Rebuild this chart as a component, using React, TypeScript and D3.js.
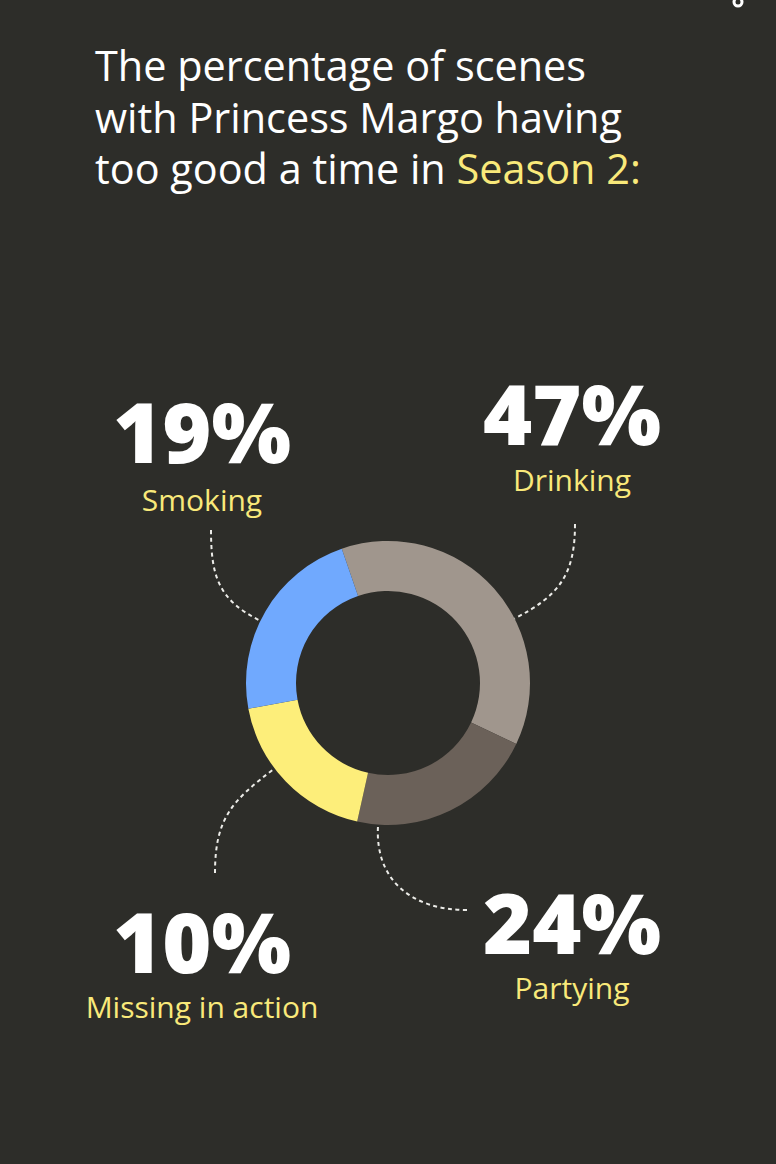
import React, { useEffect, useRef } from 'react';
import * as d3 from 'd3';

// Categories, in clockwise order starting from the top of the ring
const categories = ['Drinking', 'Partying', 'Missing in action', 'Smoking'];
// Percent printed next to each slice
const percentLabels = [47, 24, 10, 19];
// Share of the ring each slice actually takes
const arcShares = [37.3, 21.4, 18.6, 22.6];
const sliceColors = ['#a0968d', '#6b6159', '#fdee7a', '#70a9fe'];

const titleLines = [
  [{ t: 'The percentage of scenes', hi: false }],
  [{ t: 'with Princess Margo having', hi: false }],
  [{ t: 'too good a time in ', hi: false }, { t: 'Season 2:', hi: true }],
];

// Annotation layout per category (same order as categories)
const annotations = [
  { x: 572, pctY: 445, labelY: 491, end: [575, 524], tan: [0, 1], angle: 63 },
  { x: 572, pctY: 954, labelY: 999, end: [467, 910], tan: [-1, 0], angle: 184 },
  { x: 202, pctY: 973, labelY: 1018, end: [215, 873], tan: [0, -1], angle: 233 },
  { x: 202, pctY: 463, labelY: 511, end: [211, 530], tan: [0, 1], angle: 296 },
];

const W = 776;
const H = 1164;
const BG = '#2d2d29';
const YELLOW = '#f9e97a';

const App: React.FC = () => {
  const svgRef = useRef<SVGSVGElement>(null);

  useEffect(() => {
    if (!svgRef.current) return;
    const svg = d3.select(svgRef.current);
    svg.selectAll('*').remove();

    svg.append('rect').attr('width', W).attr('height', H).attr('fill', BG);

    // small icon cut off at the top right
    svg.append('circle')
      .attr('cx', 738).attr('cy', 2).attr('r', 4)
      .attr('fill', 'none').attr('stroke', '#fff').attr('stroke-width', 3);

    // Title
    const title = svg.append('text')
      .attr('x', 95)
      .style('font-family', '"Open Sans", sans-serif')
      .style('font-size', '41.4px')
      .style('fill', '#fff');
    titleLines.forEach((line, i) => {
      const row = title.append('tspan').attr('x', 95).attr('y', 81 + i * 51.5);
      line.forEach(part => {
        row.append('tspan').text(part.t).style('fill', part.hi ? YELLOW : '#fff');
      });
    });

    // Donut
    const cx = 388;
    const cy = 683;
    const outerR = 142;
    const innerR = 92;
    const pie = d3.pie<number>().sort(null).value(d => d).startAngle(-19 * Math.PI / 180).endAngle((360 - 19) * Math.PI / 180);
    const arc = d3.arc<d3.PieArcDatum<number>>().innerRadius(innerR).outerRadius(outerR);
    const ring = svg.append('g').attr('transform', `translate(${cx}, ${cy})`);
    ring.selectAll('path')
      .data(pie(arcShares))
      .enter()
      .append('path')
      .attr('d', arc)
      .attr('fill', (_, i) => sliceColors[i]);

    // Dashed connectors
    annotations.forEach(a => {
      const rad = a.angle * Math.PI / 180;
      const ux = Math.sin(rad);
      const uy = -Math.cos(rad);
      const px = cx + outerR * ux;
      const py = cy + outerR * uy;
      const [ex, ey] = a.end;
      const dist = Math.hypot(ex - px, ey - py);
      const k = dist * 0.45;
      const p = d3.path();
      p.moveTo(ex, ey);
      p.bezierCurveTo(ex + a.tan[0] * k, ey + a.tan[1] * k, px + ux * k, py + uy * k, px, py);
      svg.append('path')
        .attr('d', p.toString())
        .attr('fill', 'none')
        .attr('stroke', '#ecece8')
        .attr('stroke-width', 2)
        .attr('stroke-dasharray', '4,3.5');
    });

    // Percent and category labels
    categories.forEach((c, i) => {
      const a = annotations[i];
      svg.append('text')
        .attr('x', a.x)
        .attr('y', a.pctY)
        .attr('text-anchor', 'middle')
        .style('font-family', '"Open Sans", sans-serif')
        .style('font-weight', 800)
        .style('font-size', '84px')
        .style('fill', '#fff')
        .text(`${percentLabels[i]}%`);
      svg.append('text')
        .attr('x', a.x)
        .attr('y', a.labelY)
        .attr('text-anchor', 'middle')
        .style('font-family', '"Open Sans", sans-serif')
        .style('font-size', '30px')
        .style('fill', YELLOW)
        .text(c);
    });
  }, []);

  return (
    <svg
      ref={svgRef}
      width={W}
      height={H}
      style={{ position: 'absolute', left: 0, top: 0, display: 'block' }}
    />
  );
};

export default App;
